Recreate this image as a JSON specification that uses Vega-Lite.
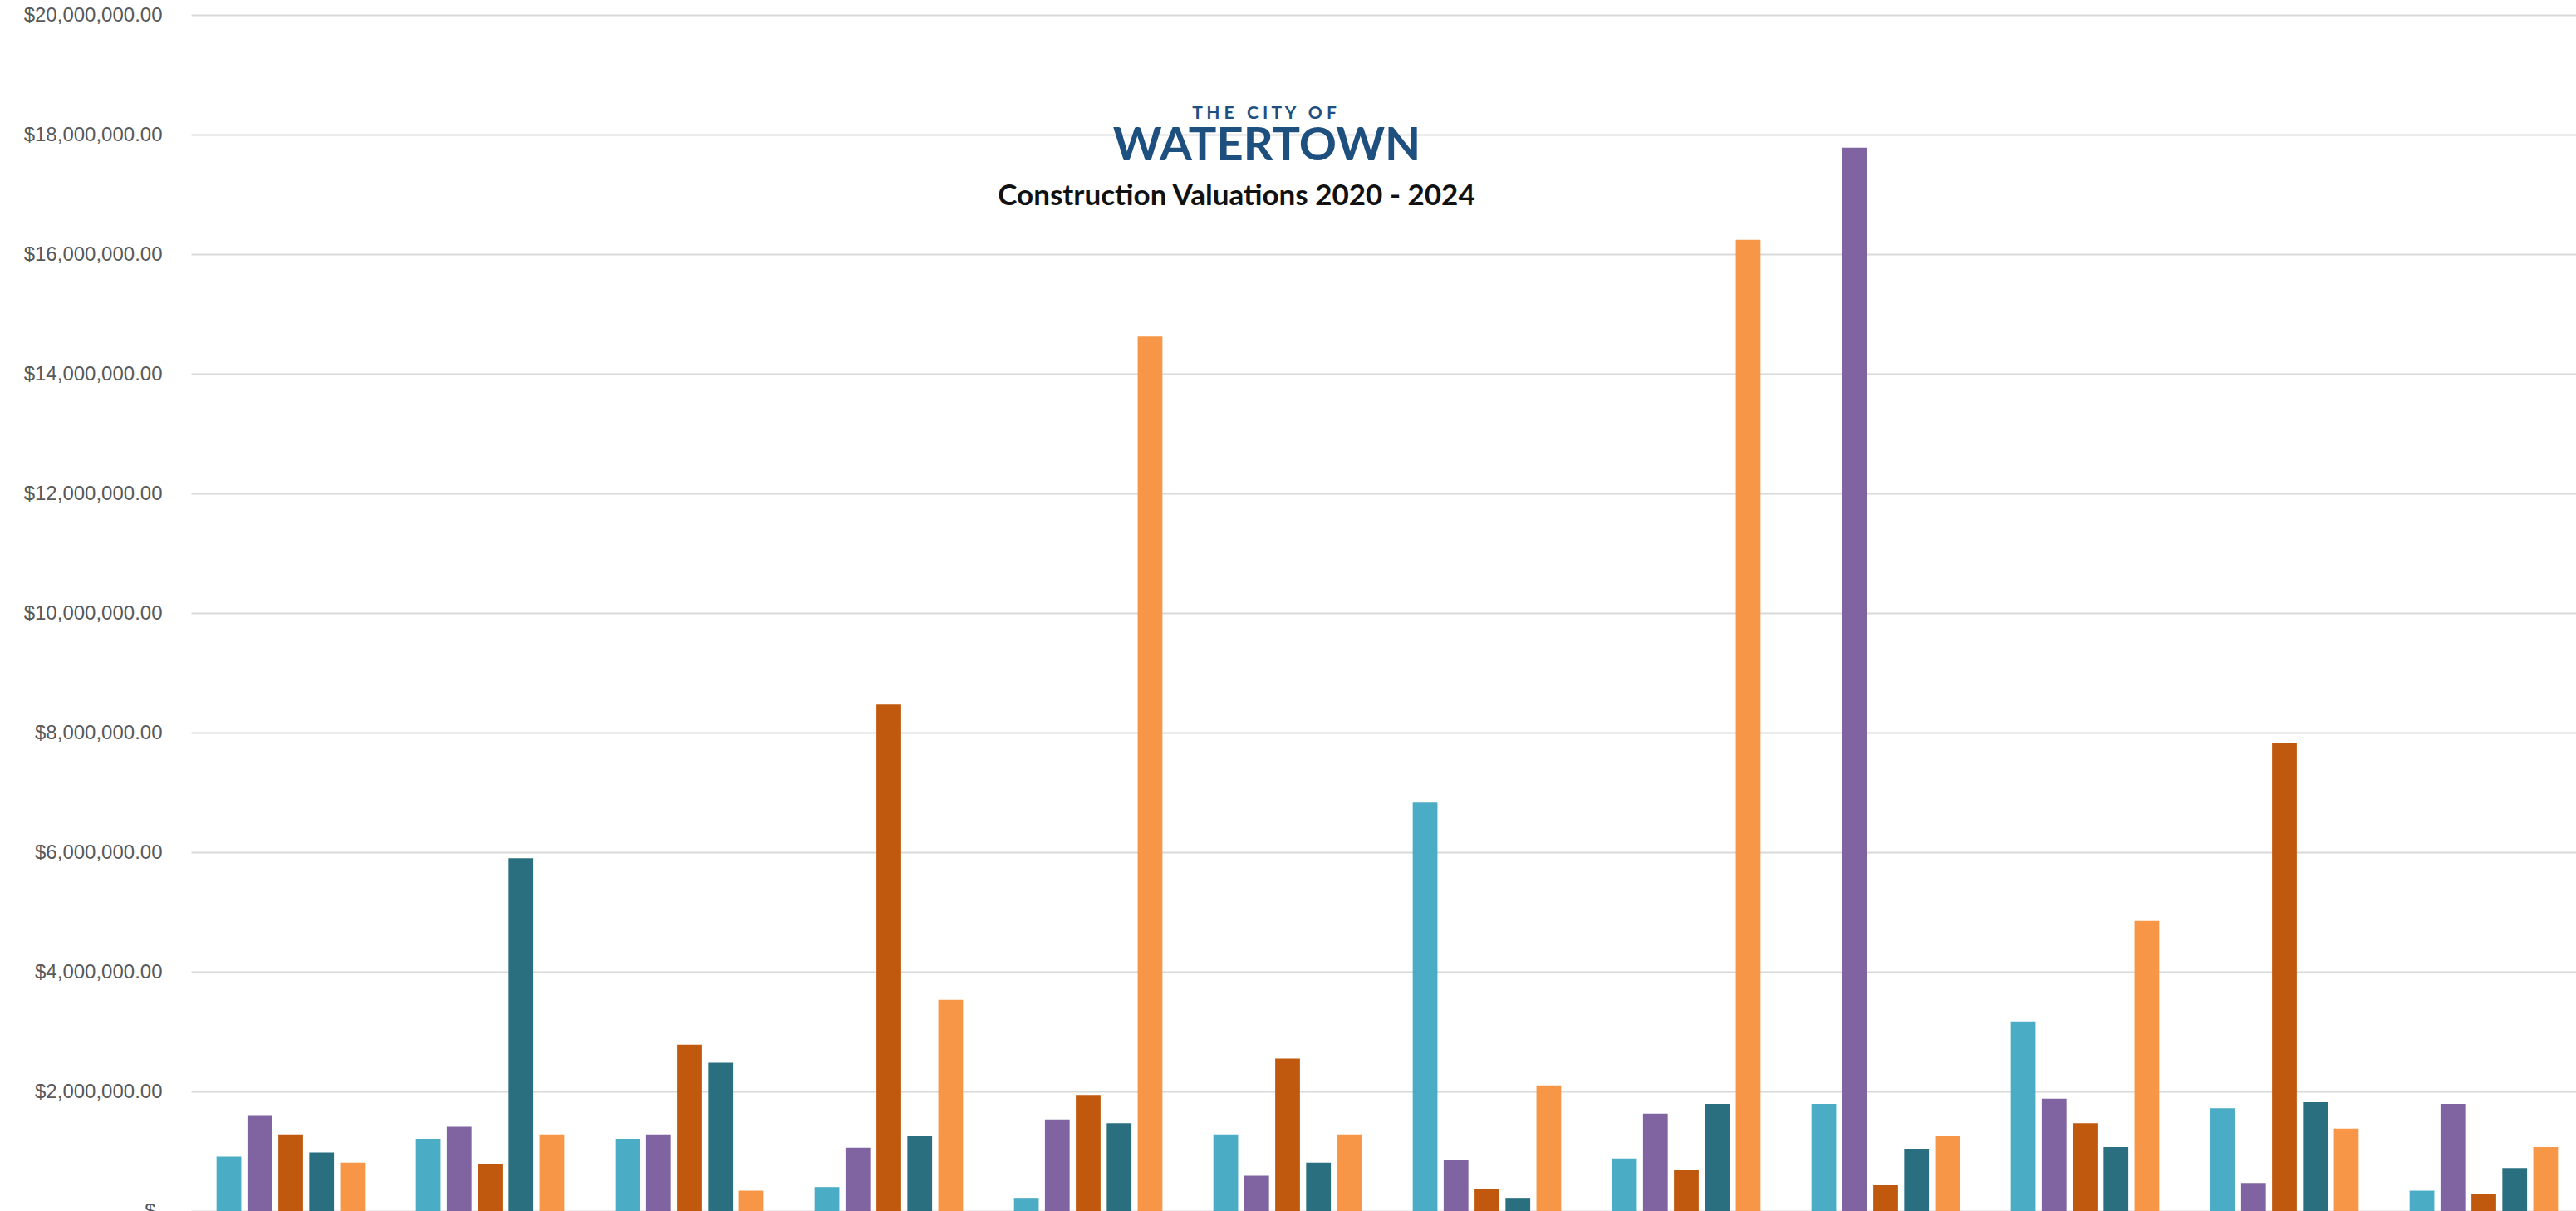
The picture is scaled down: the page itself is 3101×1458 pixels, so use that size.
{
  "$schema": "https://vega.github.io/schema/vega-lite/v6.json",
  "autosize": {"type": "none"},
  "padding": {"left": 230, "top": 18, "right": 0, "bottom": 0},
  "width": 2871,
  "height": 1440,
  "background": "#ffffff",
  "config": {"view": {"stroke": null}},
  "title": {
    "text": "Construction Valuations 2020 - 2024",
    "anchor": "middle",
    "frame": "group",
    "orient": "top",
    "offset": 0,
    "baseline": "alphabetic",
    "dx": -177,
    "dy": 276,
    "font": "Lato",
    "fontSize": 35,
    "fontWeight": "bold",
    "color": "#111111"
  },
  "datasets": {
    "valuations": [
      {"month": "Jan", "year": "2020", "value": 910000},
      {"month": "Jan", "year": "2021", "value": 1590000},
      {"month": "Jan", "year": "2022", "value": 1280000},
      {"month": "Jan", "year": "2023", "value": 980000},
      {"month": "Jan", "year": "2024", "value": 810000},
      {"month": "Feb", "year": "2020", "value": 1210000},
      {"month": "Feb", "year": "2021", "value": 1410000},
      {"month": "Feb", "year": "2022", "value": 790000},
      {"month": "Feb", "year": "2023", "value": 5900000},
      {"month": "Feb", "year": "2024", "value": 1280000},
      {"month": "Mar", "year": "2020", "value": 1210000},
      {"month": "Mar", "year": "2021", "value": 1280000},
      {"month": "Mar", "year": "2022", "value": 2780000},
      {"month": "Mar", "year": "2023", "value": 2480000},
      {"month": "Mar", "year": "2024", "value": 340000},
      {"month": "Apr", "year": "2020", "value": 400000},
      {"month": "Apr", "year": "2021", "value": 1060000},
      {"month": "Apr", "year": "2022", "value": 8470000},
      {"month": "Apr", "year": "2023", "value": 1250000},
      {"month": "Apr", "year": "2024", "value": 3530000},
      {"month": "May", "year": "2020", "value": 220000},
      {"month": "May", "year": "2021", "value": 1530000},
      {"month": "May", "year": "2022", "value": 1940000},
      {"month": "May", "year": "2023", "value": 1470000},
      {"month": "May", "year": "2024", "value": 14620000},
      {"month": "Jun", "year": "2020", "value": 1280000},
      {"month": "Jun", "year": "2021", "value": 590000},
      {"month": "Jun", "year": "2022", "value": 2550000},
      {"month": "Jun", "year": "2023", "value": 810000},
      {"month": "Jun", "year": "2024", "value": 1280000},
      {"month": "Jul", "year": "2020", "value": 6830000},
      {"month": "Jul", "year": "2021", "value": 850000},
      {"month": "Jul", "year": "2022", "value": 370000},
      {"month": "Jul", "year": "2023", "value": 220000},
      {"month": "Jul", "year": "2024", "value": 2100000},
      {"month": "Aug", "year": "2020", "value": 880000},
      {"month": "Aug", "year": "2021", "value": 1630000},
      {"month": "Aug", "year": "2022", "value": 680000},
      {"month": "Aug", "year": "2023", "value": 1790000},
      {"month": "Aug", "year": "2024", "value": 16240000},
      {"month": "Sep", "year": "2020", "value": 1790000},
      {"month": "Sep", "year": "2021", "value": 17780000},
      {"month": "Sep", "year": "2022", "value": 430000},
      {"month": "Sep", "year": "2023", "value": 1040000},
      {"month": "Sep", "year": "2024", "value": 1250000},
      {"month": "Oct", "year": "2020", "value": 3170000},
      {"month": "Oct", "year": "2021", "value": 1880000},
      {"month": "Oct", "year": "2022", "value": 1470000},
      {"month": "Oct", "year": "2023", "value": 1070000},
      {"month": "Oct", "year": "2024", "value": 4850000},
      {"month": "Nov", "year": "2020", "value": 1720000},
      {"month": "Nov", "year": "2021", "value": 470000},
      {"month": "Nov", "year": "2022", "value": 7830000},
      {"month": "Nov", "year": "2023", "value": 1820000},
      {"month": "Nov", "year": "2024", "value": 1380000},
      {"month": "Dec", "year": "2020", "value": 340000},
      {"month": "Dec", "year": "2021", "value": 1790000},
      {"month": "Dec", "year": "2022", "value": 280000},
      {"month": "Dec", "year": "2023", "value": 720000},
      {"month": "Dec", "year": "2024", "value": 1070000}
    ]
  },
  "layer": [
    {
      "data": {"name": "valuations"},
      "mark": {"type": "bar"},
      "encoding": {
        "x": {
          "field": "month",
          "type": "nominal",
          "sort": ["Jan", "Feb", "Mar", "Apr", "May", "Jun", "Jul", "Aug", "Sep", "Oct", "Nov", "Dec"],
          "scale": {"range": [0, 2880], "paddingInner": 0.24, "paddingOuter": 0.12},
          "axis": {"title": null, "domain": false, "ticks": false, "labels": false}
        },
        "xOffset": {
          "field": "year",
          "type": "nominal",
          "scale": {"paddingInner": 0.2, "paddingOuter": 0.05}
        },
        "y": {
          "field": "value",
          "type": "quantitative",
          "scale": {"domain": [0, 20000000], "nice": false},
          "axis": {
            "title": null,
            "values": [0, 2000000, 4000000, 6000000, 8000000, 10000000, 12000000, 14000000, 16000000, 18000000, 20000000],
            "labelExpr": "datum.value == 0 ? '$-' : '$' + format(datum.value, ',.2f')",
            "domain": false,
            "ticks": false,
            "tickSize": 0,
            "labelPadding": 35,
            "labelFont": "Liberation Sans",
            "labelFontSize": 24,
            "labelColor": "#595959",
            "grid": true,
            "gridColor": "#D9D9D9",
            "gridWidth": 2
          }
        },
        "color": {
          "field": "year",
          "type": "nominal",
          "scale": {
            "domain": ["2020", "2021", "2022", "2023", "2024"],
            "range": ["#4BACC6", "#8064A2", "#C0590E", "#2A6F80", "#F79646"]
          },
          "legend": null
        }
      }
    },
    {
      "data": {"values": [{"label": "T\u00a0H\u00a0E\u00a0\u00a0\u00a0C\u00a0I\u00a0T\u00a0Y\u00a0\u00a0\u00a0O\u00a0F"}]},
      "mark": {
        "type": "text",
        "font": "Lato",
        "fontSize": 21,
        "fontWeight": "bold",
        "color": "#1D4F7F",
        "baseline": "alphabetic",
        "align": "center",
        "dx": -28
      },
      "encoding": {
        "x": {"datum": "Jun"},
        "y": {"datum": 18260000},
        "text": {"field": "label"}
      }
    },
    {
      "data": {"values": [{"label": "WATERTOWN"}]},
      "mark": {
        "type": "text",
        "font": "Lato",
        "fontSize": 56,
        "fontWeight": "bold",
        "color": "#1D4F7F",
        "baseline": "alphabetic",
        "align": "center",
        "dx": -25
      },
      "encoding": {
        "x": {"datum": "Jun"},
        "y": {"datum": 17570000},
        "text": {"field": "label"}
      }
    }
  ]
}
